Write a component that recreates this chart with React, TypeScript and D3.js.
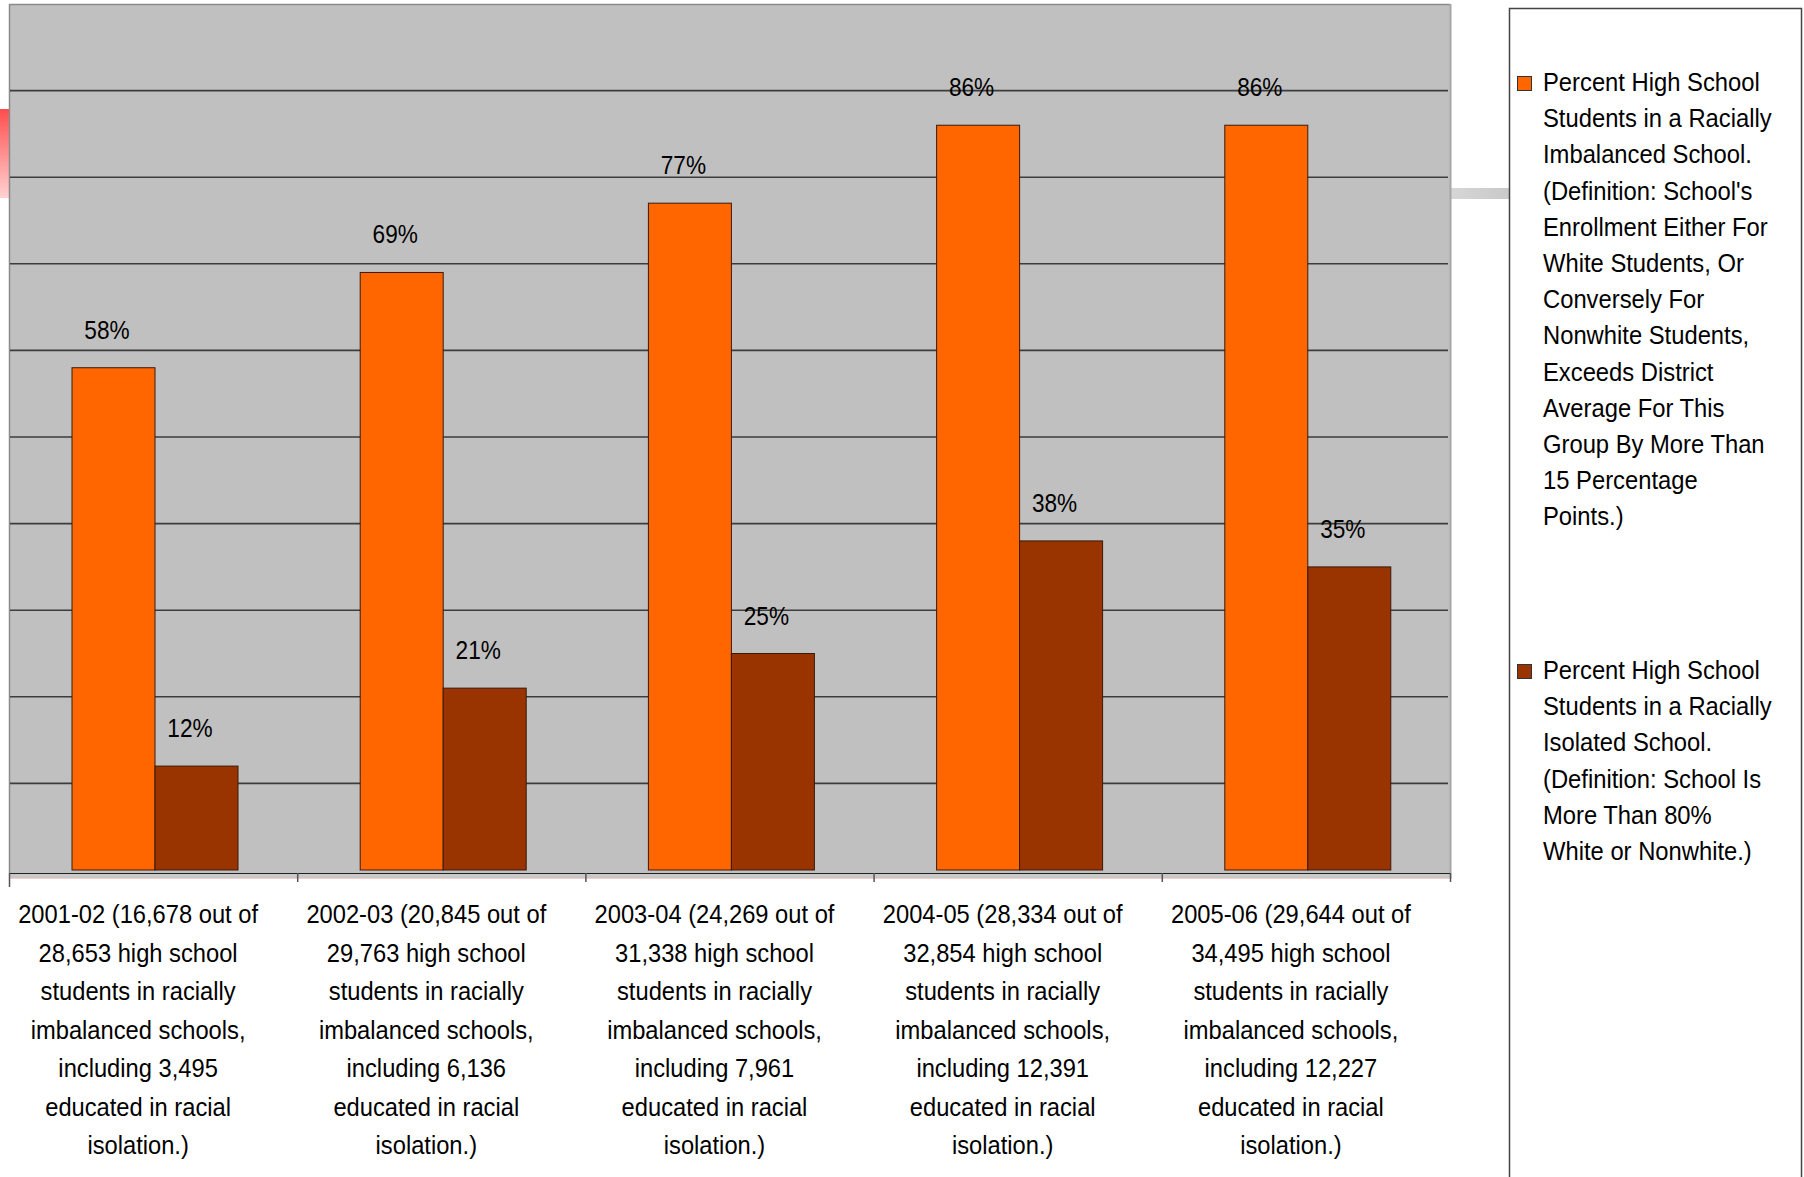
import React from "react";
import * as d3 from "d3";

// School years shown along the x axis (first word of each label block)
const years = ["2001-02", "2002-03", "2003-04", "2004-05", "2005-06"];

// Wrapped category captions, one array of lines per school year
const categoryLines: string[][] = [
  ["2001-02 (16,678 out of", "28,653 high school", "students in racially", "imbalanced schools,", "including 3,495", "educated in racial", "isolation.)"],
  ["2002-03 (20,845 out of", "29,763 high school", "students in racially", "imbalanced schools,", "including 6,136", "educated in racial", "isolation.)"],
  ["2003-04 (24,269 out of", "31,338 high school", "students in racially", "imbalanced schools,", "including 7,961", "educated in racial", "isolation.)"],
  ["2004-05 (28,334 out of", "32,854 high school", "students in racially", "imbalanced schools,", "including 12,391", "educated in racial", "isolation.)"],
  ["2005-06 (29,644 out of", "34,495 high school", "students in racially", "imbalanced schools,", "including 12,227", "educated in racial", "isolation.)"],
];

// Percent of high school students in a racially imbalanced school
const imbalanced = [58, 69, 77, 86, 86];
// Percent of high school students in a racially isolated school
const isolated = [12, 21, 25, 38, 35];

const seriesKeys = ["imbalanced", "isolated"];
const seriesValues = [imbalanced, isolated];
const seriesColors = ["#ff6600", "#993300"];

const legendLines: string[][] = [
  ["Percent High School", "Students in a Racially", "Imbalanced School.", "(Definition: School's", "Enrollment Either For", "White Students, Or", "Conversely For", "Nonwhite Students,", "Exceeds District", "Average For This", "Group By More Than", "15 Percentage", "Points.)"],
  ["Percent High School", "Students in a Racially", "Isolated School.", "(Definition: School Is", "More Than 80%", "White or Nonwhite.)"],
];

const yTicks = [10, 20, 30, 40, 50, 60, 70, 80, 90];

const FONT = "'Liberation Sans', Arial, Helvetica, sans-serif";

export default function App() {
  const W = 1804;
  const H = 1177;
  const plotLeft = 9;
  const plotRight = 1450;
  const plotTop = 4;
  const baseY = 870;
  const axisY = 873;

  const x = d3.scaleBand<string>().domain(years).range([plotLeft, plotRight]);
  const bw = x.bandwidth();
  const inner = d3.scaleBand<string>().domain(seriesKeys).range([63, 63 + 166]);
  const y = d3.scaleLinear().domain([0, 100]).range([baseY, plotTop]);

  const legendStarts = [91, 679];
  const legendStep = 36.2;

  return (
    <svg
      width={W}
      height={H}
      style={{ position: "absolute", left: 0, top: 0, background: "#ffffff" }}
      fontFamily={FONT}
    >
      <defs>
        <linearGradient id="redTab" x1="0" y1="0" x2="0" y2="1">
          <stop offset="0" stopColor="#ff4d4d" />
          <stop offset="1" stopColor="#ffd2d2" />
        </linearGradient>
        <linearGradient id="connector" x1="0" y1="0" x2="1" y2="0">
          <stop offset="0" stopColor="#d6d6d6" />
          <stop offset="1" stopColor="#c9c9c9" />
        </linearGradient>
      </defs>

      {/* slide decorations */}
      <rect x={0} y={109} width={plotLeft} height={89} fill="url(#redTab)" />
      <rect x={plotRight + 1} y={188} width={1509 - plotRight - 1} height={11} fill="url(#connector)" />

      {/* plot area */}
      <rect x={plotLeft} y={plotTop} width={plotRight - plotLeft} height={axisY - plotTop} fill="#c0c0c0" />
      <line x1={plotLeft} x2={plotRight} y1={plotTop + 0.5} y2={plotTop + 0.5} stroke="#8a8a8a" strokeWidth={1.5} />
      <line x1={plotLeft + 0.5} x2={plotLeft + 0.5} y1={plotTop} y2={axisY} stroke="#8a8a8a" strokeWidth={1.5} />
      <line x1={plotRight + 0.5} x2={plotRight + 0.5} y1={plotTop} y2={axisY + 6} stroke="#a6a6a6" strokeWidth={2} />

      {/* gridlines */}
      {yTicks.map((t) => (
        <line key={t} x1={plotLeft + 1} x2={plotRight - 2} y1={y(t)} y2={y(t)} stroke="#3c3c3c" strokeWidth={1.6} />
      ))}

      {/* axis band and line */}
      <rect x={plotLeft} y={axisY + 1} width={plotRight - plotLeft} height={4} fill="#c8c8c8" />
      <line x1={plotLeft} x2={plotRight} y1={axisY + 5.5} y2={axisY + 5.5} stroke="#f2cfc8" strokeWidth={1} />
      <line x1={plotLeft} x2={plotRight} y1={axisY + 0.5} y2={axisY + 0.5} stroke="#222" strokeWidth={1.2} />
      {years.map((c, i) => (
        <line key={"t" + c} x1={x(c)! + 0.5} x2={x(c)! + 0.5} y1={axisY} y2={axisY + (i === 0 ? 14 : 9)} stroke="#555" strokeWidth={1.5} />
      ))}
      <line x1={plotRight + 0.5} x2={plotRight + 0.5} y1={axisY} y2={axisY + 9} stroke="#555" strokeWidth={1.5} />

      {/* bars */}
      {years.map((c, i) => (
        <g key={"g" + c}>
          {seriesKeys.map((k, s) => {
            const v = seriesValues[s][i];
            const bx = x(c)! + inner(k)!;
            const top = y(v);
            return (
              <g key={k}>
                <rect x={bx} y={top} width={inner.bandwidth()} height={baseY - top} fill={seriesColors[s]} stroke="#3a1a0a" strokeWidth={1} />
                <text
                  transform={`translate(${bx + inner.bandwidth() / 2 - 6.5},${top - 29}) scale(0.87,1)`}
                  textAnchor="middle"
                  fontSize={26}
                  fill="#000"
                >
                  {v}%
                </text>
              </g>
            );
          })}
        </g>
      ))}

      {/* category captions */}
      {years.map((c, i) => (
        <g key={"l" + c}>
          {categoryLines[i].map((ln, j) => (
            <text
              key={j}
              transform={`translate(${x(c)! + bw / 2 - 15},${923 + j * 38.5}) scale(0.93,1)`}
              textAnchor="middle"
              fontSize={25.5}
              fill="#000"
            >
              {ln}
            </text>
          ))}
        </g>
      ))}

      {/* legend */}
      <rect x={1509.5} y={8.5} width={292} height={1250} fill="#ffffff" stroke="#444" strokeWidth={1.5} />
      {legendLines.map((lines, s) => (
        <g key={"lg" + s}>
          <rect x={1517.5} y={legendStarts[s] - 14.5} width={14} height={14} fill={seriesColors[s]} stroke="#333" strokeWidth={1} />
          {lines.map((ln, j) => (
            <text
              key={j}
              transform={`translate(1543,${legendStarts[s] + j * legendStep}) scale(0.915,1)`}
              fontSize={26}
              fill="#000"
            >
              {ln}
            </text>
          ))}
        </g>
      ))}
    </svg>
  );
}
